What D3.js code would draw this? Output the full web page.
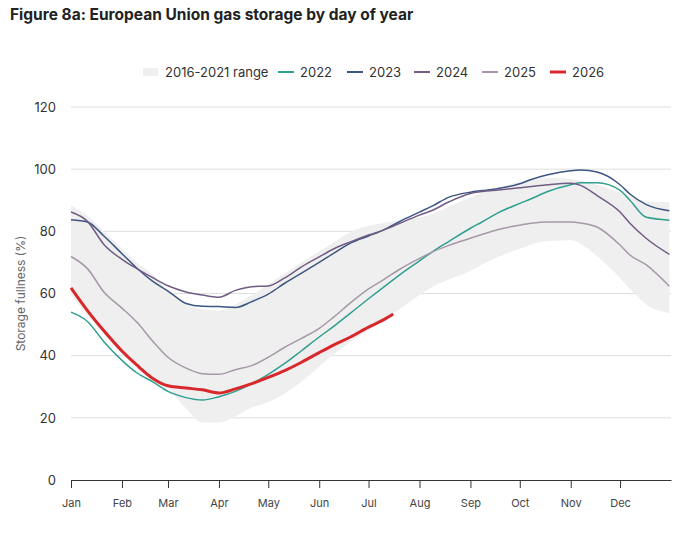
<!DOCTYPE html>
<html>
<head>
<meta charset="utf-8">
<script src="https://cdn.jsdelivr.net/npm/d3@7"></script>
<style>
  body { margin: 0; background: #fff; }
  text { font-family: Inter, "Noto Sans", sans-serif; }
</style>
</head>
<body>
<script>
// day of year for each reading
const days = [0, 10, 20, 31, 40, 50, 59, 70, 80, 90, 100, 110, 120, 130, 140, 151, 160, 170, 181, 190,
  200, 212, 220, 230, 243, 250, 260, 273, 280, 290, 304, 310, 320, 334, 340, 350, 364];

// 2016-2021 range (min / max)
const rangeHigh = [88.5, 85, 80, 74.5, 70, 66, 60.5, 56.5, 55, 54.5, 56.5, 59.5, 63, 66.5, 70, 73.5, 76.5, 79.8, 81.8, 82.7,
  83.5, 84.5, 85.5, 88, 91, 92.5, 94, 96, 96.7, 97.2, 96.8, 96.3, 95, 92.5, 91.5, 89.6, 89.4];
const rangeLow = [59.5, 53, 47, 40.5, 36, 32, 29.3, 23, 18.5, 18.5, 20.5, 23.3, 25, 27.8, 31.5, 36.5, 40.5, 44.4, 48.3, 51.5,
  55, 59.5, 62.2, 64.5, 67.3, 69.3, 71.8, 74.5, 75.8, 76.9, 77.1, 76, 72, 65, 61.5, 56.5, 53.7];

const v2022 = [54, 51, 44.5, 38.5, 34.5, 31.5, 28.5, 26.5, 25.7, 26.8, 28.5, 31, 34, 37.5, 41.5, 46, 49.5, 53.7, 58.3, 62,
  66, 70.5, 73.5, 76.8, 81, 83, 86, 89, 90.5, 92.8, 95, 95.6, 95.6, 93.2, 90, 84.5, 83.6];
const v2023 = [83.7, 83, 78.5, 72.8, 68.2, 63.8, 60.8, 56.8, 55.9, 55.8, 55.5, 57.4, 59.8, 63.3, 66.5, 70, 73, 76.2, 78.5, 80.4,
  83.2, 86.2, 88.2, 91, 92.6, 93.1, 93.8, 95.3, 96.7, 98.2, 99.5, 99.7, 99.1, 95, 92, 88.6, 86.6];
const v2024 = [86.2, 83.2, 75.8, 71, 68, 65, 62.5, 60.5, 59.5, 58.8, 61, 62.2, 62.4, 65, 68.5, 71.8, 74.4, 76.6, 78.8, 80.4,
  82.6, 85.2, 86.8, 89.5, 92.2, 92.8, 93.3, 94, 94.4, 95, 95.5, 94.8, 91.5, 86.2, 82.6, 77.7, 72.6];
const v2025 = [71.9, 68, 60.5, 55.3, 50.8, 44.5, 39.5, 36, 34.2, 34, 35.5, 36.8, 39.5, 42.7, 45.5, 48.8, 52.5, 57, 61.5, 64.4,
  67.8, 71.3, 73.4, 75.5, 77.8, 79, 80.6, 82, 82.6, 83, 83, 82.7, 81.4, 75.6, 72.4, 69.2, 62.3];
const days2026 = [0, 10, 20, 31, 40, 50, 59, 70, 80, 90, 100, 110, 120, 130, 140, 151, 160, 170, 181, 190, 196];
const v2026 = [61.8, 54.5, 48, 41.5, 37, 32.6, 30.3, 29.6, 29, 28, 29.3, 31, 33, 35.2, 37.8, 41, 43.5, 46, 49.2, 51.5, 53.4];

const monthStarts = [0, 31, 59, 90, 120, 151, 181, 212, 243, 273, 304, 334];
const monthNames = ['Jan', 'Feb', 'Mar', 'Apr', 'May', 'Jun', 'Jul', 'Aug', 'Sep', 'Oct', 'Nov', 'Dec'];
const yTicks = [0, 20, 40, 60, 80, 100, 120];

const series = [
  {name: '2022', days: days, values: v2022, color: '#2f9f8f', width: 1.5},
  {name: '2023', days: days, values: v2023, color: '#3c5682', width: 1.5},
  {name: '2024', days: days, values: v2024, color: '#715c84', width: 1.5},
  {name: '2025', days: days, values: v2025, color: '#a698a9', width: 1.5},
  {name: '2026', days: days2026, values: v2026, color: '#d8282c', width: 3}
];

const width = 676, height = 533;
const margin = {top: 107, right: 5, bottom: 53, left: 71};

const svg = d3.select('body').append('svg')
  .attr('width', width)
  .attr('height', height);

const xScale = d3.scaleLinear()
  .domain([0, 365])
  .range([margin.left, width - margin.right]);

const yScale = d3.scaleLinear()
  .domain([0, 120])
  .range([height - margin.bottom, margin.top]);

// title
svg.append('text')
  .attr('x', 10)
  .attr('y', 20)
  .attr('font-size', 15.5)
  .attr('font-weight', 'bold')
  .attr('fill', '#222')
  .text('Figure 8a: European Union gas storage by day of year');

// gridlines
svg.append('g')
  .selectAll('line')
  .data(yTicks.slice(1))
  .join('line')
  .attr('x1', xScale(0))
  .attr('x2', xScale(365))
  .attr('y1', d => yScale(d))
  .attr('y2', d => yScale(d))
  .attr('stroke', '#dedede')
  .attr('stroke-width', 1);

// range band
const band = days.map((d, i) => ({day: d, lo: rangeLow[i], hi: rangeHigh[i]}));
svg.append('path')
  .datum(band)
  .attr('fill', '#efefef')
  .attr('d', d3.area()
    .x(d => xScale(d.day))
    .y0(d => yScale(d.lo))
    .y1(d => yScale(d.hi))
    .curve(d3.curveMonotoneX));

// year lines
const line = d3.line()
  .x(d => xScale(d[0]))
  .y(d => yScale(d[1]))
  .curve(d3.curveMonotoneX);

svg.append('g')
  .selectAll('path')
  .data(series)
  .join('path')
  .attr('fill', 'none')
  .attr('stroke', d => d.color)
  .attr('stroke-width', d => d.width)
  .attr('stroke-linejoin', 'round')
  .attr('d', d => line(d.days.map((day, i) => [day, d.values[i]])));

// Y axis labels
const yAxis = d3.axisLeft(yScale).tickValues(yTicks).tickSize(0).tickPadding(15);
svg.append('g')
  .attr('transform', `translate(${margin.left},0)`)
  .call(yAxis)
  .call(g => g.select('.domain').remove())
  .selectAll('text')
  .attr('font-size', 13)
  .attr('fill', '#333')
  .style('font-family', 'Inter, sans-serif');

svg.append('text')
  .attr('transform', `translate(25,${yScale(60)}) rotate(-90)`)
  .attr('text-anchor', 'middle')
  .attr('font-size', 12)
  .attr('fill', '#666')
  .text('Storage fullness (%)');

// X axis
const xAxis = d3.axisBottom(xScale)
  .tickValues(monthStarts)
  .tickFormat((d, i) => monthNames[i])
  .tickSize(8)
  .tickSizeOuter(0)
  .tickPadding(11);
const gx = svg.append('g')
  .attr('transform', `translate(0,${yScale(0)})`)
  .call(xAxis);
gx.select('.domain').attr('stroke', '#333');
gx.selectAll('.tick line').attr('stroke', '#333');
gx.selectAll('text')
  .attr('font-size', 11)
  .attr('fill', '#444')
  .style('font-family', 'Inter, sans-serif');

// legend
const legendItems = [{name: '2016-2021 range', x: 143, type: 'band'}]
  .concat(series.map((s, i) => ({name: s.name, x: [278, 347, 414, 482, 550][i], type: 'line', color: s.color, width: s.width})));

const legend = svg.append('g').attr('transform', 'translate(0,72)');
const li = legend.selectAll('g')
  .data(legendItems)
  .join('g')
  .attr('transform', d => `translate(${d.x},0)`);

li.filter(d => d.type === 'band')
  .append('rect')
  .attr('x', 0).attr('y', -4)
  .attr('width', 15).attr('height', 8)
  .attr('fill', '#efefef');

li.filter(d => d.type === 'line')
  .append('line')
  .attr('x1', 0).attr('x2', 16)
  .attr('y1', 0).attr('y2', 0)
  .attr('stroke', d => d.color)
  .attr('stroke-width', d => d.width === 3 ? 3 : 2);

li.append('text')
  .attr('x', 22)
  .attr('dy', '0.35em')
  .attr('font-size', 13)
  .attr('fill', '#333')
  .text(d => d.name);
</script>
</body>
</html>
